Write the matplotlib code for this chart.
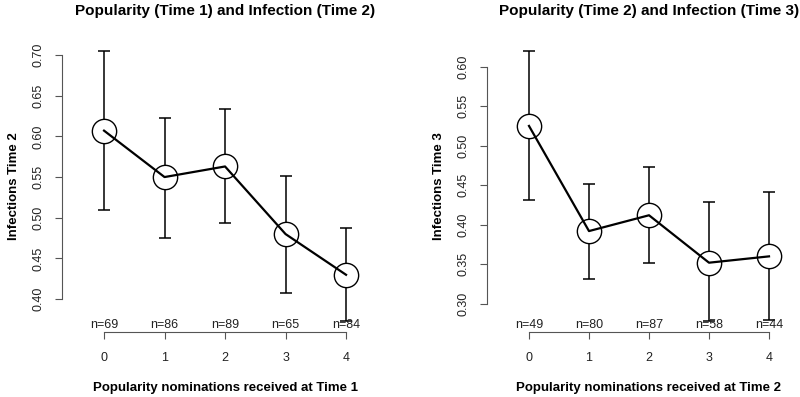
import numpy as np
import matplotlib.pyplot as plt

plt.rcParams['font.family'] = ['Liberation Sans', 'DejaVu Sans']

nominations = [0, 1, 2, 3, 4]

# Popularity (Time 1) -> Infection (Time 2)
means_t2 = [0.607, 0.550, 0.563, 0.480, 0.430]
upper_t2 = [0.705, 0.623, 0.633, 0.551, 0.488]
lower_t2 = [0.510, 0.475, 0.493, 0.408, 0.373]
n_t2 = [69, 86, 89, 65, 84]

# Popularity (Time 2) -> Infection (Time 3)
means_t3 = [0.525, 0.392, 0.412, 0.352, 0.360]
upper_t3 = [0.620, 0.451, 0.473, 0.429, 0.442]
lower_t3 = [0.431, 0.331, 0.351, 0.278, 0.279]
n_t3 = [49, 80, 87, 58, 44]

yticks_t2 = [0.40, 0.45, 0.50, 0.55, 0.60, 0.65, 0.70]
yticks_t3 = [0.30, 0.35, 0.40, 0.45, 0.50, 0.55, 0.60]

panels = [
    ("Popularity (Time 1) and Infection (Time 2)", "Infections Time 2",
     "Popularity nominations received at Time 1",
     means_t2, upper_t2, lower_t2, n_t2, yticks_t2),
    ("Popularity (Time 2) and Infection (Time 3)", "Infections Time 3",
     "Popularity nominations received at Time 2",
     means_t3, upper_t3, lower_t3, n_t3, yticks_t3),
]

fig = plt.figure(figsize=(8, 3.97), dpi=100)
positions = [[0.0771, 0.1637, 0.4084, 0.7355],
             [0.60875, 0.1637, 0.405, 0.7355]]

for pos, (title, ylab, xlab, m, up, lo, n, yt) in zip(positions, panels):
    ax = fig.add_axes(pos)
    m = np.array(m)
    up = np.array(up)
    lo = np.array(lo)

    ax.errorbar(nominations, m, yerr=[m - lo, up - m], fmt='none',
                ecolor='black', elinewidth=1.1, capsize=4, capthick=1.1, zorder=1)
    ax.plot(nominations, m, 'o', ms=17.5, mfc='white', mec='black', mew=1.0, zorder=2)
    ax.plot(nominations, m, '-', color='black', lw=1.6, zorder=3)

    # R style axis limits: range of intervals extended by 4%
    ymin, ymax = lo.min(), up.max()
    ext = 0.04 * (ymax - ymin)
    ax.set_ylim(ymin - ext, ymax + ext)
    ax.set_xlim(-0.7, 4.7)

    for side in ['top', 'right']:
        ax.spines[side].set_visible(False)
    ax.spines['left'].set_bounds(yt[0], yt[-1])
    ax.spines['bottom'].set_bounds(0, 4)
    for side in ['left', 'bottom']:
        ax.spines[side].set_color('#555555')
        ax.spines[side].set_linewidth(0.8)

    ax.set_xticks(nominations)
    ax.set_yticks(yt)
    ax.set_yticklabels([f"{v:.2f}" for v in yt], rotation=90, va='center')
    ax.tick_params(axis='both', length=5, width=0.8, color='#555555',
                   labelsize=9, labelcolor='#222222')
    ax.tick_params(axis='x', pad=9.5)
    ax.tick_params(axis='y', pad=7.5)

    for x, cnt in zip(nominations, n):
        ax.annotate(f"n={cnt}", xy=(x, 0), xycoords=ax.get_xaxis_transform(),
                    xytext=(0, 1), textcoords='offset points',
                    ha='center', va='bottom', fontsize=9, color='#222222')

    ax.set_title(title, fontsize=11, fontweight='bold', pad=18)
    ax.set_ylabel(ylab, fontsize=9.5, fontweight='bold', labelpad=9)
    ax.set_xlabel(xlab, fontsize=9.5, fontweight='bold', labelpad=13)

fig.savefig('out.png', dpi=100)
